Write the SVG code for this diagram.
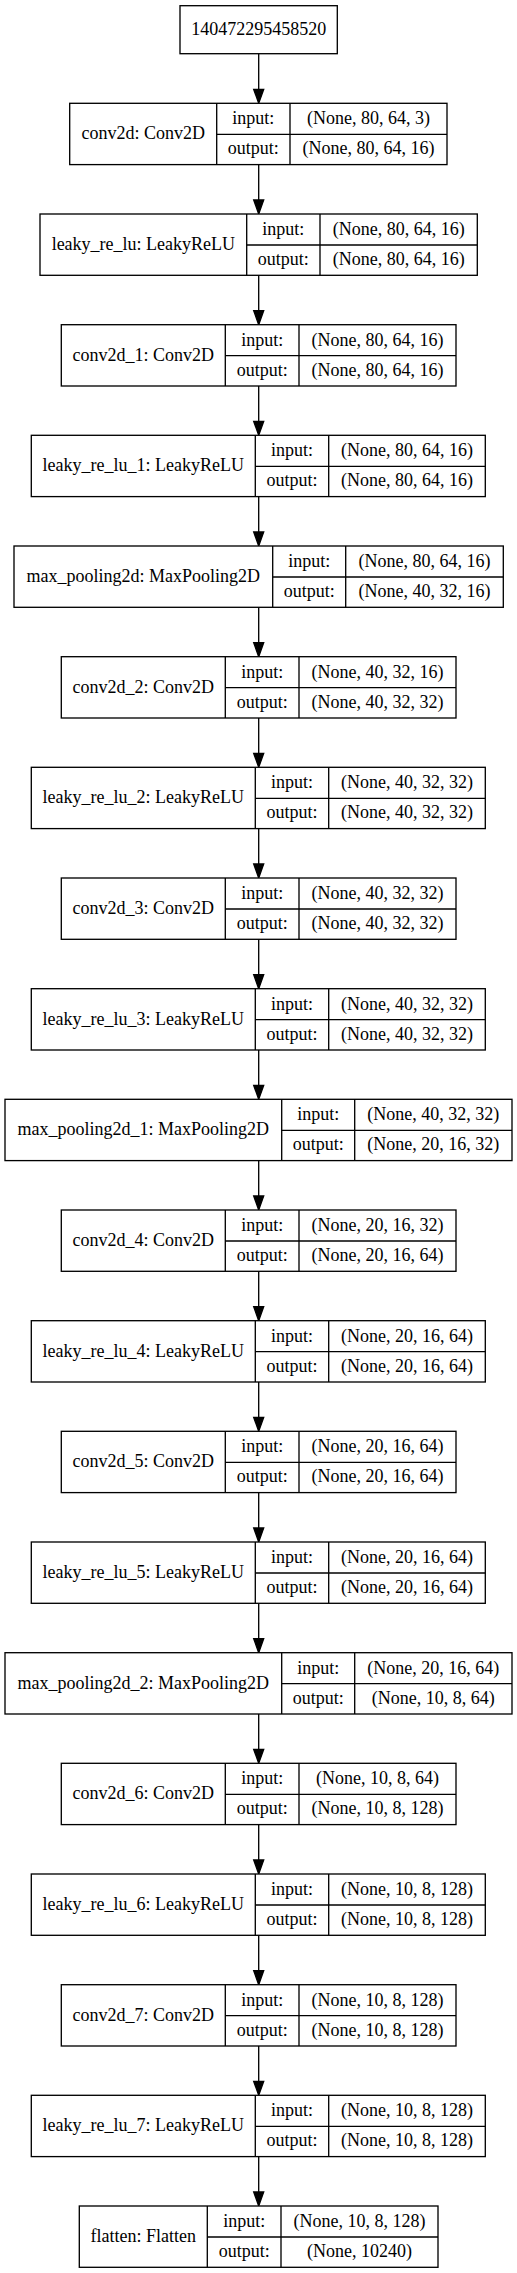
<svg xmlns="http://www.w3.org/2000/svg" width="517" height="2273" viewBox="0 0 517 2273">
<style>
.b{fill:#fff;stroke:#000;stroke-width:1.33}
.l{stroke:#000;stroke-width:1.33;fill:none}
text{font-family:"Liberation Serif","Times New Roman",serif;font-size:18px;text-anchor:middle;fill:#000}
.e{stroke:#000;stroke-width:1.33;fill:none}
.h{fill:#000;stroke:#000;stroke-width:1.33}
</style>
<rect width="517" height="2273" fill="#fff"/>
<g id="edges">
<line class="e" x1="258.7" y1="53.7" x2="258.7" y2="89.3"/><polygon class="h" points="253.7,89.3 263.7,89.3 258.7,103.3"/>
<line class="e" x1="258.7" y1="164.6" x2="258.7" y2="200"/><polygon class="h" points="253.7,200 263.7,200 258.7,214"/>
<line class="e" x1="258.7" y1="275.3" x2="258.7" y2="310.7"/><polygon class="h" points="253.7,310.7 263.7,310.7 258.7,324.7"/>
<line class="e" x1="258.7" y1="386" x2="258.7" y2="421.3"/><polygon class="h" points="253.7,421.3 263.7,421.3 258.7,435.3"/>
<line class="e" x1="258.7" y1="496.6" x2="258.7" y2="532"/><polygon class="h" points="253.7,532 263.7,532 258.7,546"/>
<line class="e" x1="258.7" y1="607.3" x2="258.7" y2="642.7"/><polygon class="h" points="253.7,642.7 263.7,642.7 258.7,656.7"/>
<line class="e" x1="258.7" y1="718" x2="258.7" y2="753.3"/><polygon class="h" points="253.7,753.3 263.7,753.3 258.7,767.3"/>
<line class="e" x1="258.7" y1="828.6" x2="258.7" y2="864"/><polygon class="h" points="253.7,864 263.7,864 258.7,878"/>
<line class="e" x1="258.7" y1="939.3" x2="258.7" y2="974.7"/><polygon class="h" points="253.7,974.7 263.7,974.7 258.7,988.7"/>
<line class="e" x1="258.7" y1="1050" x2="258.7" y2="1085.3"/><polygon class="h" points="253.7,1085.3 263.7,1085.3 258.7,1099.3"/>
<line class="e" x1="258.7" y1="1160.6" x2="258.7" y2="1196"/><polygon class="h" points="253.7,1196 263.7,1196 258.7,1210"/>
<line class="e" x1="258.7" y1="1271.3" x2="258.7" y2="1306.7"/><polygon class="h" points="253.7,1306.7 263.7,1306.7 258.7,1320.7"/>
<line class="e" x1="258.7" y1="1382" x2="258.7" y2="1417.3"/><polygon class="h" points="253.7,1417.3 263.7,1417.3 258.7,1431.3"/>
<line class="e" x1="258.7" y1="1492.6" x2="258.7" y2="1528"/><polygon class="h" points="253.7,1528 263.7,1528 258.7,1542"/>
<line class="e" x1="258.7" y1="1603.3" x2="258.7" y2="1638.7"/><polygon class="h" points="253.7,1638.7 263.7,1638.7 258.7,1652.7"/>
<line class="e" x1="258.7" y1="1714" x2="258.7" y2="1749.3"/><polygon class="h" points="253.7,1749.3 263.7,1749.3 258.7,1763.3"/>
<line class="e" x1="258.7" y1="1824.6" x2="258.7" y2="1860"/><polygon class="h" points="253.7,1860 263.7,1860 258.7,1874"/>
<line class="e" x1="258.7" y1="1935.3" x2="258.7" y2="1970.7"/><polygon class="h" points="253.7,1970.7 263.7,1970.7 258.7,1984.7"/>
<line class="e" x1="258.7" y1="2046" x2="258.7" y2="2081.3"/><polygon class="h" points="253.7,2081.3 263.7,2081.3 258.7,2095.3"/>
<line class="e" x1="258.7" y1="2156.6" x2="258.7" y2="2192"/><polygon class="h" points="253.7,2192 263.7,2192 258.7,2206"/>
</g>
<g id="input">
<rect class="b" x="180" y="5.7" width="157.3" height="48"/>
<text x="258.7" y="35">140472295458520</text>
</g>
<g id="conv2d" transform="translate(0,103.3)">
<rect class="b" x="69.7" y="0" width="377.3" height="61.3"/>
<line class="l" x1="216.7" y1="0" x2="216.7" y2="61.3"/><line class="l" x1="290" y1="0" x2="290" y2="61.3"/><line class="l" x1="216.7" y1="31" x2="447" y2="31"/>
<text x="143.2" y="36">conv2d: Conv2D</text><text x="253.35" y="21">input:</text><text x="253.35" y="51">output:</text>
<text x="368.5" y="21">(None, 80, 64, 3)</text><text x="368.5" y="51">(None, 80, 64, 16)</text>
</g>
<g id="leaky_re_lu" transform="translate(0,214)">
<rect class="b" x="40" y="0" width="437.3" height="61.3"/>
<line class="l" x1="246.7" y1="0" x2="246.7" y2="61.3"/><line class="l" x1="320" y1="0" x2="320" y2="61.3"/><line class="l" x1="246.7" y1="31" x2="477.3" y2="31"/>
<text x="143.35" y="36">leaky_re_lu: LeakyReLU</text><text x="283.35" y="21">input:</text><text x="283.35" y="51">output:</text>
<text x="398.65" y="21">(None, 80, 64, 16)</text><text x="398.65" y="51">(None, 80, 64, 16)</text>
</g>
<g id="conv2d_1" transform="translate(0,324.7)">
<rect class="b" x="61.3" y="0" width="394.7" height="61.3"/>
<line class="l" x1="225.3" y1="0" x2="225.3" y2="61.3"/><line class="l" x1="299" y1="0" x2="299" y2="61.3"/><line class="l" x1="225.3" y1="31" x2="456" y2="31"/>
<text x="143.3" y="36">conv2d_1: Conv2D</text><text x="262.15" y="21">input:</text><text x="262.15" y="51">output:</text>
<text x="377.5" y="21">(None, 80, 64, 16)</text><text x="377.5" y="51">(None, 80, 64, 16)</text>
</g>
<g id="leaky_re_lu_1" transform="translate(0,435.3)">
<rect class="b" x="31.3" y="0" width="454" height="61.3"/>
<line class="l" x1="255.3" y1="0" x2="255.3" y2="61.3"/><line class="l" x1="328.7" y1="0" x2="328.7" y2="61.3"/><line class="l" x1="255.3" y1="31" x2="485.3" y2="31"/>
<text x="143.3" y="36">leaky_re_lu_1: LeakyReLU</text><text x="292" y="21">input:</text><text x="292" y="51">output:</text>
<text x="407" y="21">(None, 80, 64, 16)</text><text x="407" y="51">(None, 80, 64, 16)</text>
</g>
<g id="max_pooling2d" transform="translate(0,546)">
<rect class="b" x="14" y="0" width="489.3" height="61.3"/>
<line class="l" x1="272.7" y1="0" x2="272.7" y2="61.3"/><line class="l" x1="345.7" y1="0" x2="345.7" y2="61.3"/><line class="l" x1="272.7" y1="31" x2="503.3" y2="31"/>
<text x="143.35" y="36">max_pooling2d: MaxPooling2D</text><text x="309.2" y="21">input:</text><text x="309.2" y="51">output:</text>
<text x="424.5" y="21">(None, 80, 64, 16)</text><text x="424.5" y="51">(None, 40, 32, 16)</text>
</g>
<g id="conv2d_2" transform="translate(0,656.7)">
<rect class="b" x="61.3" y="0" width="394.7" height="61.3"/>
<line class="l" x1="225.3" y1="0" x2="225.3" y2="61.3"/><line class="l" x1="299" y1="0" x2="299" y2="61.3"/><line class="l" x1="225.3" y1="31" x2="456" y2="31"/>
<text x="143.3" y="36">conv2d_2: Conv2D</text><text x="262.15" y="21">input:</text><text x="262.15" y="51">output:</text>
<text x="377.5" y="21">(None, 40, 32, 16)</text><text x="377.5" y="51">(None, 40, 32, 32)</text>
</g>
<g id="leaky_re_lu_2" transform="translate(0,767.3)">
<rect class="b" x="31.3" y="0" width="454" height="61.3"/>
<line class="l" x1="255.3" y1="0" x2="255.3" y2="61.3"/><line class="l" x1="328.7" y1="0" x2="328.7" y2="61.3"/><line class="l" x1="255.3" y1="31" x2="485.3" y2="31"/>
<text x="143.3" y="36">leaky_re_lu_2: LeakyReLU</text><text x="292" y="21">input:</text><text x="292" y="51">output:</text>
<text x="407" y="21">(None, 40, 32, 32)</text><text x="407" y="51">(None, 40, 32, 32)</text>
</g>
<g id="conv2d_3" transform="translate(0,878)">
<rect class="b" x="61.3" y="0" width="394.7" height="61.3"/>
<line class="l" x1="225.3" y1="0" x2="225.3" y2="61.3"/><line class="l" x1="299" y1="0" x2="299" y2="61.3"/><line class="l" x1="225.3" y1="31" x2="456" y2="31"/>
<text x="143.3" y="36">conv2d_3: Conv2D</text><text x="262.15" y="21">input:</text><text x="262.15" y="51">output:</text>
<text x="377.5" y="21">(None, 40, 32, 32)</text><text x="377.5" y="51">(None, 40, 32, 32)</text>
</g>
<g id="leaky_re_lu_3" transform="translate(0,988.7)">
<rect class="b" x="31.3" y="0" width="454" height="61.3"/>
<line class="l" x1="255.3" y1="0" x2="255.3" y2="61.3"/><line class="l" x1="328.7" y1="0" x2="328.7" y2="61.3"/><line class="l" x1="255.3" y1="31" x2="485.3" y2="31"/>
<text x="143.3" y="36">leaky_re_lu_3: LeakyReLU</text><text x="292" y="21">input:</text><text x="292" y="51">output:</text>
<text x="407" y="21">(None, 40, 32, 32)</text><text x="407" y="51">(None, 40, 32, 32)</text>
</g>
<g id="max_pooling2d_1" transform="translate(0,1099.3)">
<rect class="b" x="5" y="0" width="507" height="61.3"/>
<line class="l" x1="281.7" y1="0" x2="281.7" y2="61.3"/><line class="l" x1="354.7" y1="0" x2="354.7" y2="61.3"/><line class="l" x1="281.7" y1="31" x2="512" y2="31"/>
<text x="143.35" y="36">max_pooling2d_1: MaxPooling2D</text><text x="318.2" y="21">input:</text><text x="318.2" y="51">output:</text>
<text x="433.35" y="21">(None, 40, 32, 32)</text><text x="433.35" y="51">(None, 20, 16, 32)</text>
</g>
<g id="conv2d_4" transform="translate(0,1210)">
<rect class="b" x="61.3" y="0" width="394.7" height="61.3"/>
<line class="l" x1="225.3" y1="0" x2="225.3" y2="61.3"/><line class="l" x1="299" y1="0" x2="299" y2="61.3"/><line class="l" x1="225.3" y1="31" x2="456" y2="31"/>
<text x="143.3" y="36">conv2d_4: Conv2D</text><text x="262.15" y="21">input:</text><text x="262.15" y="51">output:</text>
<text x="377.5" y="21">(None, 20, 16, 32)</text><text x="377.5" y="51">(None, 20, 16, 64)</text>
</g>
<g id="leaky_re_lu_4" transform="translate(0,1320.7)">
<rect class="b" x="31.3" y="0" width="454" height="61.3"/>
<line class="l" x1="255.3" y1="0" x2="255.3" y2="61.3"/><line class="l" x1="328.7" y1="0" x2="328.7" y2="61.3"/><line class="l" x1="255.3" y1="31" x2="485.3" y2="31"/>
<text x="143.3" y="36">leaky_re_lu_4: LeakyReLU</text><text x="292" y="21">input:</text><text x="292" y="51">output:</text>
<text x="407" y="21">(None, 20, 16, 64)</text><text x="407" y="51">(None, 20, 16, 64)</text>
</g>
<g id="conv2d_5" transform="translate(0,1431.3)">
<rect class="b" x="61.3" y="0" width="394.7" height="61.3"/>
<line class="l" x1="225.3" y1="0" x2="225.3" y2="61.3"/><line class="l" x1="299" y1="0" x2="299" y2="61.3"/><line class="l" x1="225.3" y1="31" x2="456" y2="31"/>
<text x="143.3" y="36">conv2d_5: Conv2D</text><text x="262.15" y="21">input:</text><text x="262.15" y="51">output:</text>
<text x="377.5" y="21">(None, 20, 16, 64)</text><text x="377.5" y="51">(None, 20, 16, 64)</text>
</g>
<g id="leaky_re_lu_5" transform="translate(0,1542)">
<rect class="b" x="31.3" y="0" width="454" height="61.3"/>
<line class="l" x1="255.3" y1="0" x2="255.3" y2="61.3"/><line class="l" x1="328.7" y1="0" x2="328.7" y2="61.3"/><line class="l" x1="255.3" y1="31" x2="485.3" y2="31"/>
<text x="143.3" y="36">leaky_re_lu_5: LeakyReLU</text><text x="292" y="21">input:</text><text x="292" y="51">output:</text>
<text x="407" y="21">(None, 20, 16, 64)</text><text x="407" y="51">(None, 20, 16, 64)</text>
</g>
<g id="max_pooling2d_2" transform="translate(0,1652.7)">
<rect class="b" x="5" y="0" width="507" height="61.3"/>
<line class="l" x1="281.7" y1="0" x2="281.7" y2="61.3"/><line class="l" x1="354.7" y1="0" x2="354.7" y2="61.3"/><line class="l" x1="281.7" y1="31" x2="512" y2="31"/>
<text x="143.35" y="36">max_pooling2d_2: MaxPooling2D</text><text x="318.2" y="21">input:</text><text x="318.2" y="51">output:</text>
<text x="433.35" y="21">(None, 20, 16, 64)</text><text x="433.35" y="51">(None, 10, 8, 64)</text>
</g>
<g id="conv2d_6" transform="translate(0,1763.3)">
<rect class="b" x="61.3" y="0" width="394.7" height="61.3"/>
<line class="l" x1="225.3" y1="0" x2="225.3" y2="61.3"/><line class="l" x1="299" y1="0" x2="299" y2="61.3"/><line class="l" x1="225.3" y1="31" x2="456" y2="31"/>
<text x="143.3" y="36">conv2d_6: Conv2D</text><text x="262.15" y="21">input:</text><text x="262.15" y="51">output:</text>
<text x="377.5" y="21">(None, 10, 8, 64)</text><text x="377.5" y="51">(None, 10, 8, 128)</text>
</g>
<g id="leaky_re_lu_6" transform="translate(0,1874)">
<rect class="b" x="31.3" y="0" width="454" height="61.3"/>
<line class="l" x1="255.3" y1="0" x2="255.3" y2="61.3"/><line class="l" x1="328.7" y1="0" x2="328.7" y2="61.3"/><line class="l" x1="255.3" y1="31" x2="485.3" y2="31"/>
<text x="143.3" y="36">leaky_re_lu_6: LeakyReLU</text><text x="292" y="21">input:</text><text x="292" y="51">output:</text>
<text x="407" y="21">(None, 10, 8, 128)</text><text x="407" y="51">(None, 10, 8, 128)</text>
</g>
<g id="conv2d_7" transform="translate(0,1984.7)">
<rect class="b" x="61.3" y="0" width="394.7" height="61.3"/>
<line class="l" x1="225.3" y1="0" x2="225.3" y2="61.3"/><line class="l" x1="299" y1="0" x2="299" y2="61.3"/><line class="l" x1="225.3" y1="31" x2="456" y2="31"/>
<text x="143.3" y="36">conv2d_7: Conv2D</text><text x="262.15" y="21">input:</text><text x="262.15" y="51">output:</text>
<text x="377.5" y="21">(None, 10, 8, 128)</text><text x="377.5" y="51">(None, 10, 8, 128)</text>
</g>
<g id="leaky_re_lu_7" transform="translate(0,2095.3)">
<rect class="b" x="31.3" y="0" width="454" height="61.3"/>
<line class="l" x1="255.3" y1="0" x2="255.3" y2="61.3"/><line class="l" x1="328.7" y1="0" x2="328.7" y2="61.3"/><line class="l" x1="255.3" y1="31" x2="485.3" y2="31"/>
<text x="143.3" y="36">leaky_re_lu_7: LeakyReLU</text><text x="292" y="21">input:</text><text x="292" y="51">output:</text>
<text x="407" y="21">(None, 10, 8, 128)</text><text x="407" y="51">(None, 10, 8, 128)</text>
</g>
<g id="flatten" transform="translate(0,2206)">
<rect class="b" x="79.3" y="0" width="358.7" height="61.3"/>
<line class="l" x1="207.3" y1="0" x2="207.3" y2="61.3"/><line class="l" x1="281" y1="0" x2="281" y2="61.3"/><line class="l" x1="207.3" y1="31" x2="438" y2="31"/>
<text x="143.3" y="36">flatten: Flatten</text><text x="244.15" y="21">input:</text><text x="244.15" y="51">output:</text>
<text x="359.5" y="21">(None, 10, 8, 128)</text><text x="359.5" y="51">(None, 10240)</text>
</g>
</svg>
